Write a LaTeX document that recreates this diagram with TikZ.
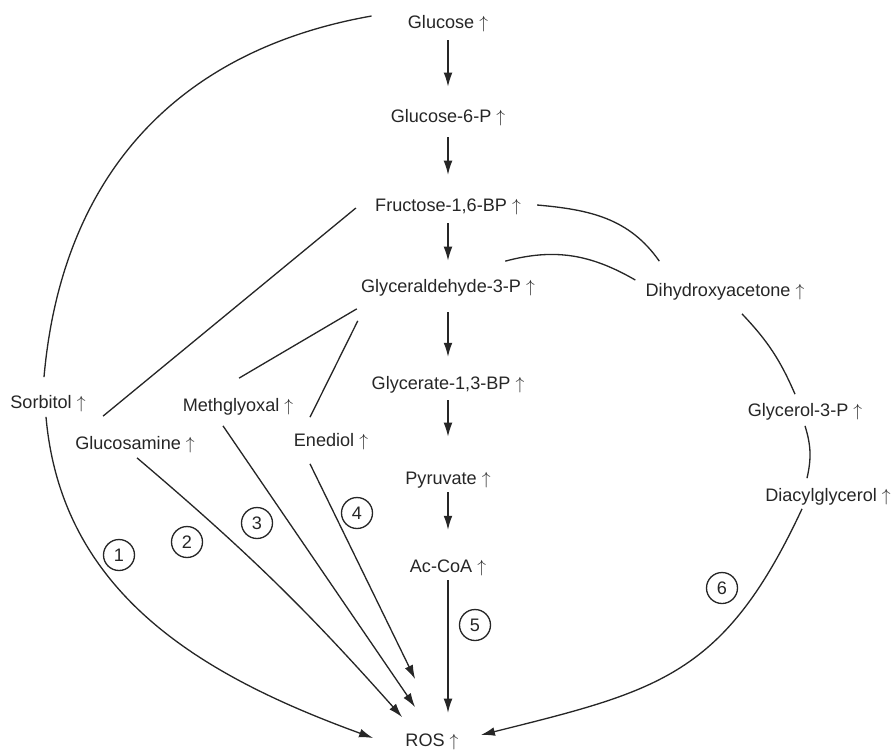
\documentclass[tikz,border=0pt]{standalone}
\usepackage{fontspec}
\setmainfont{Liberation Sans}
\usetikzlibrary{arrows.meta}

\newcommand{\incr}{~$\uparrow$}

\begin{document}
\begin{tikzpicture}[x=0.02cm, y=-0.02cm,
    every node/.style={font=\fontsize{10.3}{12}\selectfont, text=black!85},
    met/.style={inner sep=0pt, text height=7.4pt, text depth=0pt},
    num/.style={draw=black!85, circle, line width=0.75pt, minimum size=0.62cm, inner sep=0pt},
    link/.style={line width=0.75pt, draw=black!85},
    flow/.style={link, -{Latex[length=8pt,width=5pt]}}]

% page size
\useasboundingbox (0,0) rectangle (896,752);

% Glycolysis column
\node[met] (glc)   at (448,22)  {Glucose\incr};
\node[met] (g6p)   at (448,116) {Glucose-6-P\incr};
\node[met] (fbp)   at (448,205) {Fructose-1,6-BP\incr};
\node[met] (gap)   at (448,286) {Glyceraldehyde-3-P\incr};
\node[met] (bpg)   at (448,383) {Glycerate-1,3-BP\incr};
\node[met] (pyr)   at (448,478) {Pyruvate\incr};
\node[met] (accoa) at (448,566) {Ac-CoA\incr};
\node[met] (ros)   at (432,740) {ROS\incr};

% Side branches
\node[met] (sorb) at (48,402)  {Sorbitol\incr};
\node[met] (glcn) at (135,443) {Glucosamine\incr};
\node[met] (mgo)  at (238,405) {Methglyoxal\incr};
\node[met] (ened) at (331,440) {Enediol\incr};
\node[met] (dhap) at (725,290) {Dihydroxyacetone\incr};
\node[met] (g3pl) at (805,410) {Glycerol-3-P\incr};
\node[met] (dag)  at (828,495) {Diacylglycerol\incr};

% Pathway numbers
\node[num] (n1) at (119,555) {1};
\node[num] (n2) at (187,542) {2};
\node[num] (n3) at (257,523) {3};
\node[num] (n4) at (357,513) {4};
\node[num] (n5) at (475,625) {5};
\node[num] (n6) at (722,588) {6};

% Main column arrows
\draw[flow, shorten <=6.5pt, shorten >=12.8pt] (glc.south) -- (g6p.north);
\draw[flow, shorten <=8.2pt, shorten >=13.3pt] (g6p.south) -- (fbp.north);
\draw[flow, shorten <=6.5pt, shorten >=10.5pt] (fbp.south) -- (gap.north);
\draw[flow, shorten <=11pt, shorten >=11pt] (gap.south) -- (bpg.north);
\draw[flow, shorten <=6pt, shorten >=19.6pt] (bpg.south) -- (pyr.north);
\draw[flow, shorten <=4.3pt, shorten >=16.7pt] (pyr.south) -- (accoa.north);
\draw[flow, shorten <=4.3pt, shorten >=11.6pt] (accoa.south) -- (accoa.south |- ros.north);

% Polyol pathway (1)
\draw[link] ([shift={(-36,-6)}]glc.west) to[out=190, in=85, looseness=1.05] ([shift={(-4,-18)}]sorb.north);
\draw[flow] ([shift={(-2,8)}]sorb.south) to[out=-85, in=160] ([shift={(-32,-2)}]ros.west);

% Hexosamine pathway (2)
\draw[link] ([shift={(-19,3)}]fbp.west) -- ([shift={(-32,-20)}]glcn.north);
\draw[flow] ([shift={(2,8)}]glcn.south) to[bend left=4] ([shift={(-3,-16)}]ros.north west);

% Methylglyoxal (3) and enediol (4)
\draw[link] ([shift={(-4,16)}]gap.south west) -- ([shift={(1,-20)}]mgo.north);
\draw[flow] ([shift={(-15,14)}]mgo.south) -- ([shift={(10,-26)}]ros.north west);
\draw[link] ([shift={(-3,28)}]gap.south west) -- ([shift={(-21,-16)}]ened.north);
\draw[flow] ([shift={(-21,17)}]ened.south) -- ([shift={(10,-54)}]ros.north west);

% DAG pathway (6)
\draw[link] ([shift={(16,0)}]fbp.east) to[out=-5, in=125] ([shift={(14,-22)}]dhap.north west);
\draw[link] ([shift={(-30,-18)}]gap.north east) to[out=15, in=150] ([shift={(-10,-10)}]dhap.west);
\draw[link] ([shift={(17,17)}]dhap.south) to[bend left=10] ([shift={(-10,-9)}]g3pl.north);
\draw[link] ([shift={(0,9)}]g3pl.south) to[bend left=15] ([shift={(-21,-10)}]dag.north);
\draw[flow] ([shift={(-26,7)}]dag.south) to[out=245, in=14, looseness=1.2] ([shift={(22,-5)}]ros.east);

\end{tikzpicture}
\end{document}
